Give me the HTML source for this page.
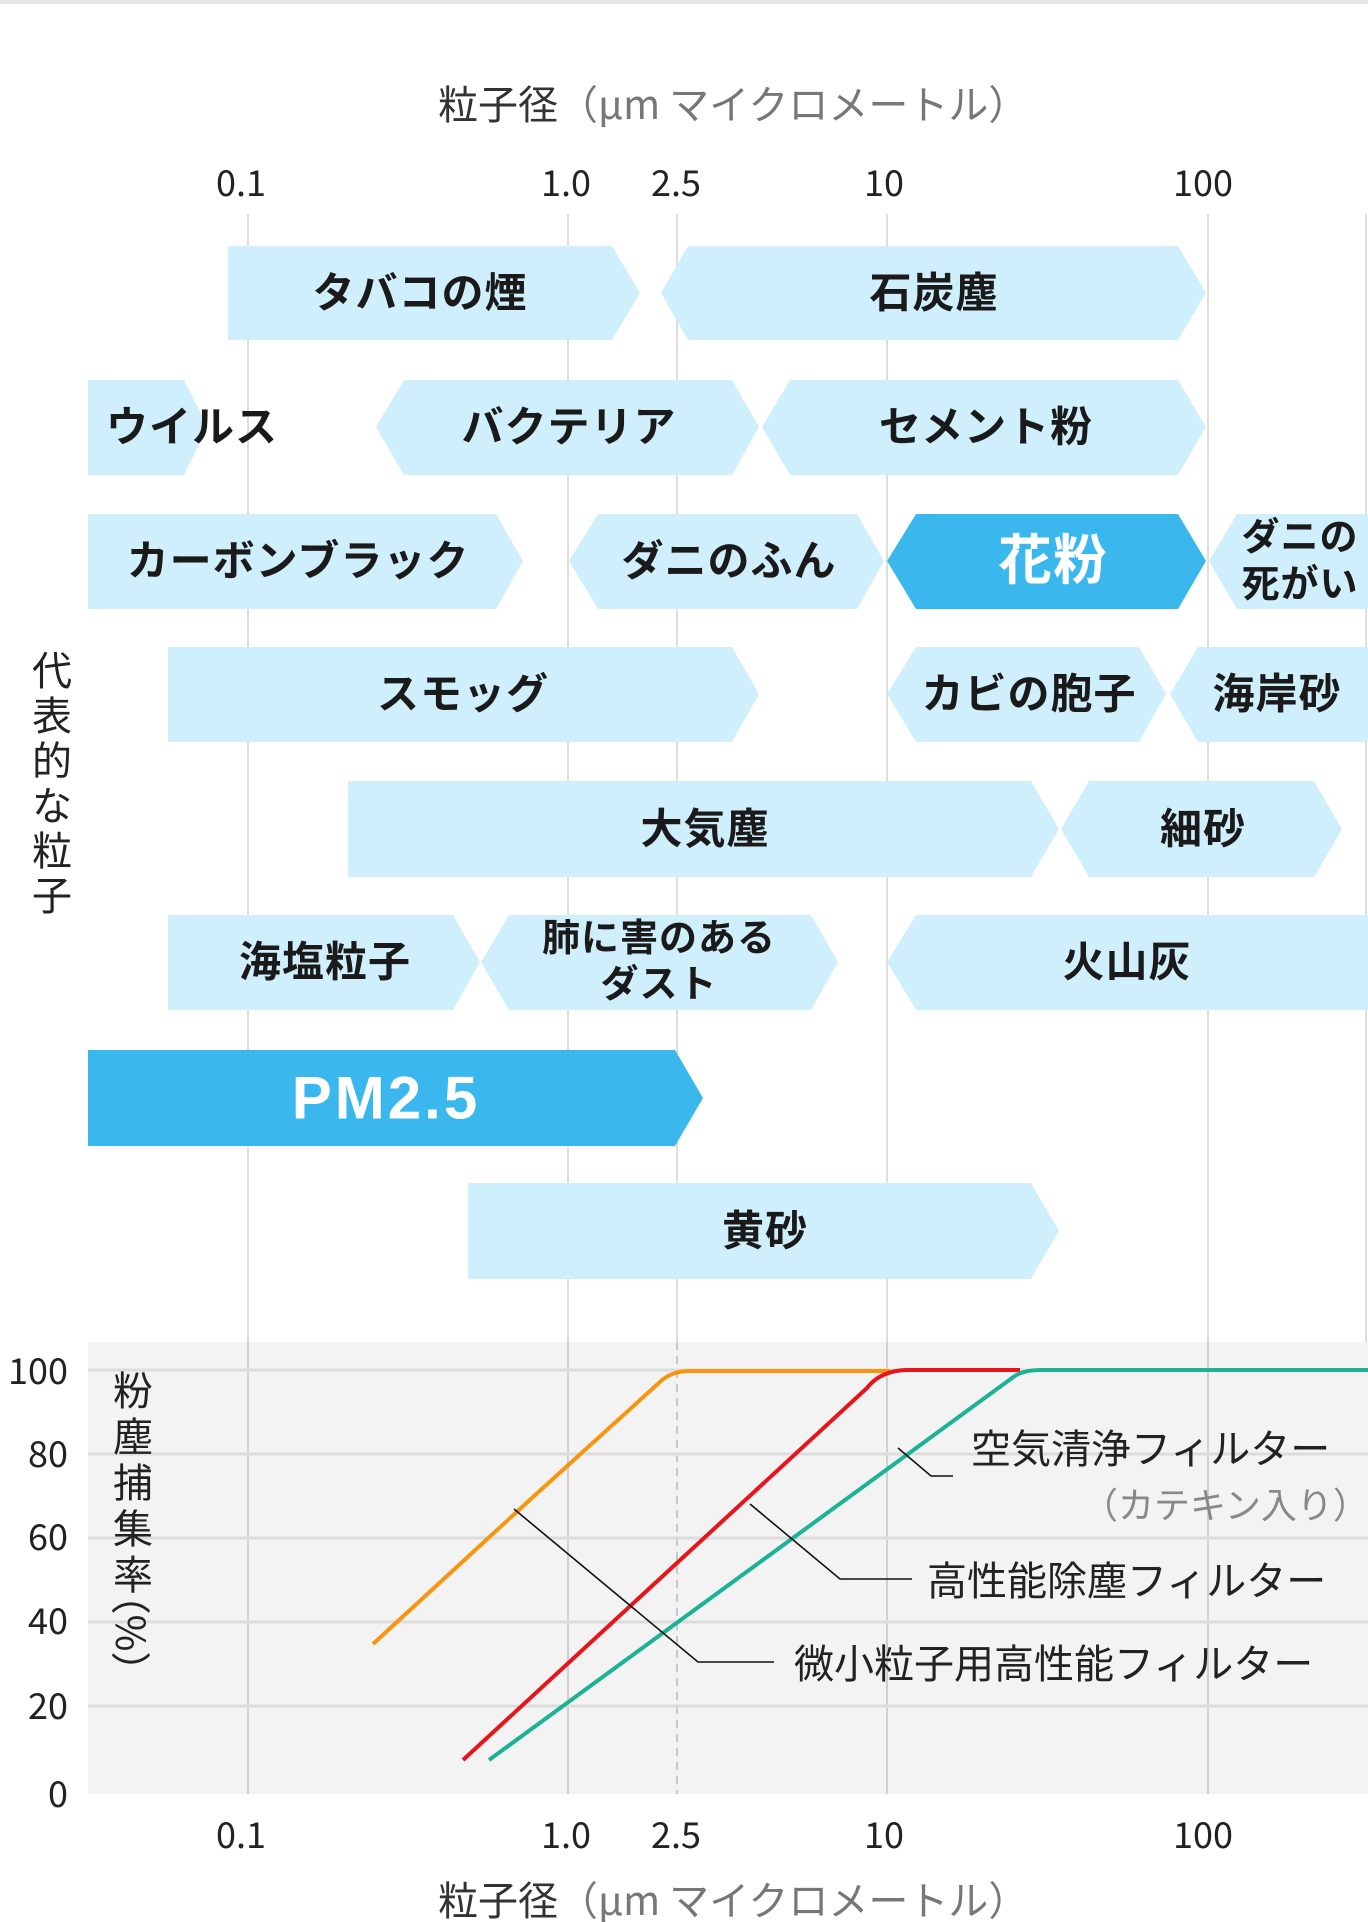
<!DOCTYPE html>
<html><head><meta charset="utf-8"><style>
html,body{margin:0;padding:0;background:#fff;}
svg{display:block;}
text{font-family:"Liberation Sans","Noto Sans CJK JP",sans-serif;}
.b{font-weight:700;fill:#1a1a1a;font-size:42px;text-anchor:middle;dominant-baseline:central;letter-spacing:1px;}
.ax{font-family:"Noto Sans CJK JP",sans-serif;fill:#222;font-size:36px;text-anchor:middle;dominant-baseline:central;}
.lab{font-family:"Noto Sans CJK JP",sans-serif;fill:#222;font-size:40px;dominant-baseline:central;}
</style></head><body>
<svg width="1368" height="1922" viewBox="0 0 1368 1922" xmlns="http://www.w3.org/2000/svg">
<rect x="0" y="0" width="1368" height="4" fill="#e6e6e6"/>
<text x="438" y="102" class="lab" style="font-size:40px"><tspan fill="#333">粒子径</tspan><tspan fill="#777">（μm マイクロメートル）</tspan></text>
<text class="ax" x="241" y="181">0.1</text><text class="ax" x="566" y="181">1.0</text><text class="ax" x="676" y="181">2.5</text><text class="ax" x="884" y="181">10</text><text class="ax" x="1203" y="181">100</text>
<rect x="88" y="1342" width="1280" height="452" fill="#f3f3f3"/>
<g stroke="#dedede" stroke-width="2">
<line x1="248" y1="214" x2="248" y2="1794"/>
<line x1="568" y1="214" x2="568" y2="1794"/>
<line x1="887" y1="214" x2="887" y2="1794"/>
<line x1="1208" y1="214" x2="1208" y2="1794"/>
<line x1="1366" y1="214" x2="1366" y2="1342"/>
<line x1="677" y1="214" x2="677" y2="1342"/>
</g>
<line x1="677" y1="1342" x2="677" y2="1794" stroke="#c8c8c8" stroke-width="2" stroke-dasharray="8,6"/>
<g stroke="#cfcfcf" stroke-width="2">
<line x1="248" y1="1342" x2="248" y2="1794"/><line x1="568" y1="1342" x2="568" y2="1794"/><line x1="887" y1="1342" x2="887" y2="1794"/><line x1="1208" y1="1342" x2="1208" y2="1794"/>
</g>
<g stroke="#dcdcdc" stroke-width="3">
<line x1="88" y1="1370" x2="1368" y2="1370"/><line x1="88" y1="1454" x2="1368" y2="1454"/><line x1="88" y1="1538" x2="1368" y2="1538"/><line x1="88" y1="1622" x2="1368" y2="1622"/><line x1="88" y1="1706" x2="1368" y2="1706"/>
</g>
<g fill="#cfeffc">
<polygon points="228,246 612,246 640,293 612,340 228,340"/>
<polygon points="661,293 688,246 1178,246 1206,293 1178,340 688,340"/>
<polygon points="88,380 184,380 208,427 184,475 88,475"/>
<polygon points="376,427 404,380 732,380 759,427 732,475 404,475"/>
<polygon points="762,427 790,380 1178,380 1206,427 1178,475 790,475"/>
<polygon points="88,514 496,514 523,561 496,609 88,609"/>
<polygon points="569,561 598,514 857,514 884,561 857,609 598,609"/>
<polygon points="1209,561 1237,514 1368,514 1368,609 1237,609"/>
<polygon points="168,647 732,647 759,694 732,742 168,742"/>
<polygon points="887,694 916,647 1139,647 1166,694 1139,742 916,742"/>
<polygon points="1170,694 1198,647 1368,647 1368,742 1198,742"/>
<polygon points="348,781 1031,781 1059,829 1031,877 348,877"/>
<polygon points="1061,829 1089,781 1314,781 1342,829 1314,877 1089,877"/>
<polygon points="168,915 453,915 480,962 453,1010 168,1010"/>
<polygon points="481,962 509,915 811,915 838,962 811,1010 509,1010"/>
<polygon points="887,962 916,915 1368,915 1368,1010 916,1010"/>
<polygon points="468,1183 1031,1183 1059,1231 1031,1279 468,1279"/>
</g>
<g fill="#3ab8ee">
<polygon points="887,561 916,514 1178,514 1206,561 1178,609 916,609"/>
<polygon points="88,1050 675,1050 703,1098 675,1146 88,1146"/>
</g>
<text class="b" x="420" y="293">タバコの煙</text>
<text class="b" x="934" y="293">石炭塵</text>
<text class="b" x="106" y="427" style="text-anchor:start">ウイルス</text>
<text class="b" x="569" y="427">バクテリア</text>
<text class="b" x="986" y="427">セメント粉</text>
<text class="b" x="298" y="561">カーボンブラック</text>
<text class="b" x="729" y="561">ダニのふん</text>
<text class="b" x="1053" y="561" style="fill:#fff;font-size:54px">花粉</text>
<text class="b" x="1300" y="538" style="font-size:38px">ダニの</text>
<text class="b" x="1300" y="585" style="font-size:38px">死がい</text>
<text class="b" x="463" y="694">スモッグ</text>
<text class="b" x="1029" y="694">カビの胞子</text>
<text class="b" x="1277" y="694">海岸砂</text>
<text class="b" x="705" y="829">大気塵</text>
<text class="b" x="1203" y="829">細砂</text>
<text class="b" x="325" y="962">海塩粒子</text>
<text class="b" x="659" y="939" style="font-size:38px">肺に害のある</text>
<text class="b" x="659" y="985" style="font-size:38px">ダスト</text>
<text class="b" x="1127" y="962">火山灰</text>
<text class="b" x="386" y="1098" style="fill:#fff;font-size:60px;letter-spacing:3px">PM2.5</text>
<text class="b" x="765" y="1231">黄砂</text>
<text class="ax" style="font-size:40px" x="52" y="668">代</text><text class="ax" style="font-size:40px" x="52" y="713">表</text><text class="ax" style="font-size:40px" x="52" y="758">的</text><text class="ax" style="font-size:40px" x="52" y="803">な</text><text class="ax" style="font-size:40px" x="52" y="848">粒</text><text class="ax" style="font-size:40px" x="52" y="893">子</text>
<text class="ax" style="text-anchor:end" x="68" y="1369">100</text><text class="ax" style="text-anchor:end" x="68" y="1452">80</text><text class="ax" style="text-anchor:end" x="68" y="1535">60</text><text class="ax" style="text-anchor:end" x="68" y="1619">40</text><text class="ax" style="text-anchor:end" x="68" y="1704">20</text><text class="ax" style="text-anchor:end" x="68" y="1792">0</text>
<text class="ax" style="font-size:40px" x="133" y="1388">粉</text><text class="ax" style="font-size:40px" x="133" y="1434">塵</text><text class="ax" style="font-size:40px" x="133" y="1480">捕</text><text class="ax" style="font-size:40px" x="133" y="1526">集</text><text class="ax" style="font-size:40px" x="133" y="1572">率</text>
<text class="ax" style="font-size:40px" x="133" y="1633" transform="rotate(90 133 1633)">（%）</text>
<path d="M373,1644 L533,1497 L661,1381 Q672,1371 690,1371 L890,1371" fill="none" stroke="#f7950f" stroke-width="4"/>
<path d="M463,1760 L867,1388 Q880,1371 906,1370 L1020,1370" fill="none" stroke="#e8141c" stroke-width="4"/>
<path d="M489,1760 L1012,1378 Q1022,1370 1040,1370 L1368,1370" fill="none" stroke="#1bb394" stroke-width="4"/>
<g stroke="#111" stroke-width="1.6" fill="none">
<polyline points="514,1509 698,1662 774,1662"/>
<polyline points="750,1504 840,1579 912,1579"/>
<polyline points="898,1448 931,1476 953,1476"/>
</g>
<text class="lab" x="971" y="1446">空気清浄フィルター</text>
<text class="lab" x="1082" y="1503" style="fill:#888;font-size:36px">（カテキン入り）</text>
<text class="lab" x="927" y="1578">高性能除塵フィルター</text>
<text class="lab" x="794" y="1661">微小粒子用高性能フィルター</text>
<text class="ax" x="241" y="1833">0.1</text><text class="ax" x="566" y="1833">1.0</text><text class="ax" x="676" y="1833">2.5</text><text class="ax" x="884" y="1833">10</text><text class="ax" x="1203" y="1833">100</text>
<text x="438" y="1898" class="lab"><tspan fill="#333">粒子径</tspan><tspan fill="#777">（μm マイクロメートル）</tspan></text>
</svg>
</body></html>
